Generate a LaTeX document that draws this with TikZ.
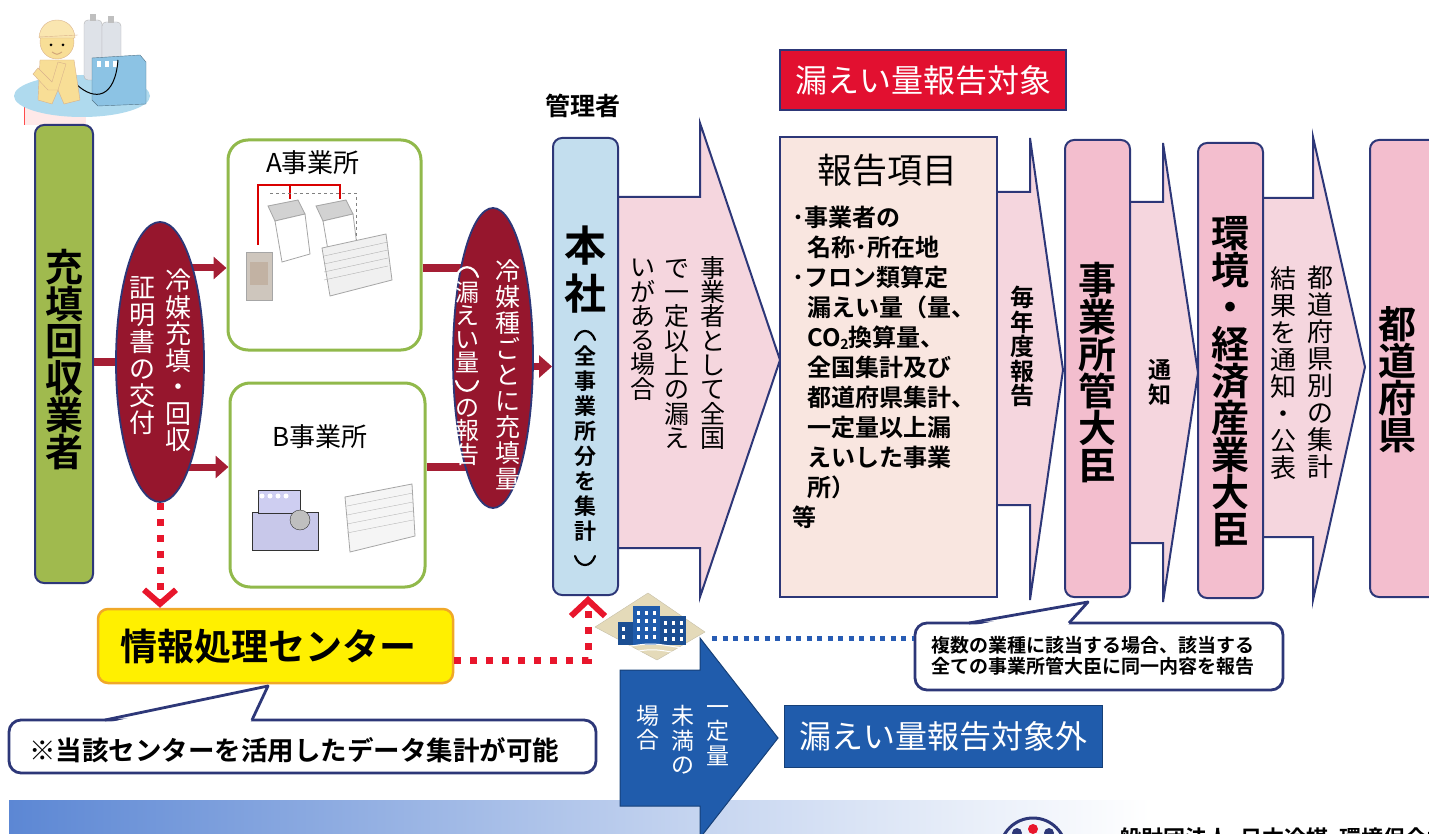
\documentclass[tikz,border=0pt]{standalone}
\usepackage{fontspec}
\setmainfont{Noto Sans CJK JP}[BoldFont={Noto Sans CJK JP Bold}]
\usetikzlibrary{shapes.geometric,arrows.meta}

\definecolor{navy}{RGB}{45,55,120}
\definecolor{grassgreen}{RGB}{160,186,78}
\definecolor{leafline}{RGB}{145,185,75}
\definecolor{wine}{RGB}{150,22,45}
\definecolor{wineline}{RGB}{165,30,52}
\definecolor{paleblue}{RGB}{195,222,238}
\definecolor{arrowpink}{RGB}{245,214,222}
\definecolor{boxpink}{RGB}{243,190,206}
\definecolor{peach}{RGB}{249,230,224}
\definecolor{alertred}{RGB}{226,16,48}
\definecolor{royal}{RGB}{32,92,172}
\definecolor{signyellow}{RGB}{255,240,0}
\definecolor{signorange}{RGB}{240,168,40}
\definecolor{dotred}{RGB}{232,22,44}
\definecolor{dotblue}{RGB}{40,92,180}
\definecolor{bannerblue}{RGB}{92,135,212}
\definecolor{workerbody}{RGB}{248,222,150}
\definecolor{discblue}{RGB}{175,218,238}
\definecolor{machblue}{RGB}{140,195,228}
\definecolor{cylgray}{RGB}{222,226,232}
\definecolor{sand}{RGB}{228,218,185}

\newcommand\fsz[2]{\fontsize{#1}{#2}\selectfont}

\begin{document}
\begin{tikzpicture}[x=1pt,y=-1pt,
  vcol/.style={inner sep=0pt, align=center, anchor=north},
  vbracket/.style={line width=2.2pt, line cap=round},
  tallbox/.style={draw=navy, line width=2pt, rounded corners=9pt, minimum width=65pt, minimum height=457pt},
  bigarrow/.style={fill=arrowpink, draw=navy, line width=2pt, line join=miter},
  redlink/.style={draw=wineline, line width=8pt},
  redarrow/.style={draw=wineline, line width=7pt, -{Triangle[length=13pt,width=22pt]}},
  officebox/.style={draw=leafline, line width=3pt, rounded corners=20pt, fill=white},
  wineoval/.style={ellipse, fill=wine, draw=navy, line width=1.8pt},
  callout/.style={draw=navy, line width=2.8pt, rounded corners=12pt, fill=white},
  reddots/.style={draw=dotred, line width=7pt, dash pattern=on 7pt off 9pt},
  bluedots/.style={draw=dotblue, line width=5pt, dash pattern=on 5pt off 5.5pt},
  equip/.style={draw=gray!70, line width=0.8pt}]
\useasboundingbox (0,0) rectangle (1429,834);
\clip (0,0) rectangle (1429,834);

% ---------- bottom banner ----------
\shade[left color=bannerblue, right color=bannerblue!35] (9,800) rectangle (700,840);
\shade[left color=bannerblue!35, right color=white] (700,800) rectangle (1150,840);

% ---------- worker with recovery equipment ----------
\fill[pink!35] (24,106) rectangle (86,125);
\draw[red!70, line width=1pt] (24,103) -- (24,125);
\fill[discblue] (82,96) ellipse [x radius=68, y radius=21];
\filldraw[fill=cylgray, draw=gray!60, rounded corners=4pt] (84,20) rectangle (102,80);
\filldraw[fill=cylgray, draw=gray!60, rounded corners=4pt] (102,22) rectangle (121,82);
\fill[gray!50] (90,14) rectangle (96,21);
\fill[gray!50] (108,16) rectangle (114,23);
\filldraw[fill=machblue, draw=machblue!60!black] (92,58) -- (140,55) -- (146,62) -- (146,104) -- (98,106) -- (92,100) -- cycle;
\foreach \wx in {97,105,113} \fill[white] (\wx,61) rectangle (\wx+4,67);
\draw[black, line width=1pt] (118,60) .. controls (115,98) and (95,102) .. (76,84);
% worker: legs and body
\filldraw[fill=workerbody, draw=brown!60] (40,60) -- (74,60) -- (80,100) -- (64,104) -- (58,90) -- (52,104) -- (38,100) -- cycle;
\filldraw[fill=workerbody, draw=brown!60] (38,68) -- (52,82) -- (58,62) -- (66,64) -- (58,90) -- (48,90) -- (33,74) -- cycle;
% head and cap
\filldraw[fill=workerbody, draw=brown!60] (57,42) circle (17);
\filldraw[fill=workerbody!75!white, draw=brown!60] (39,38) .. controls (40,14) and (74,14) .. (75,38) -- cycle;
\draw[brown!60] (39,37) -- (78,35);
\fill[black] (51,45) circle (1.5);
\fill[black] (63,45) circle (1.5);
\draw[brown!70, line width=1pt] (52,52) .. controls (57,55) .. (62,52);

% ---------- flow arrows (pink) ----------
\draw[bigarrow] (600,197) -- (700,197) -- (700,123) -- (780,360) -- (700,597) -- (700,548) -- (600,548) -- cycle;
\draw[bigarrow] (990,192) -- (1030,192) -- (1030,138) -- (1063,370) -- (1030,600) -- (1030,505) -- (990,505) -- cycle;
\draw[bigarrow] (1120,202) -- (1163,202) -- (1163,143) -- (1198,373) -- (1163,602) -- (1163,543) -- (1120,543) -- cycle;
\draw[bigarrow] (1255,198) -- (1313,198) -- (1313,137) -- (1365,367) -- (1313,600) -- (1313,537) -- (1255,537) -- cycle;

% ---------- below-threshold arrow (blue) ----------
\draw[fill=royal, draw=royal!70!black, line width=1pt] (620,670) -- (700,670) -- (700,638) -- (778,738) -- (700,838) -- (700,806) -- (620,806) -- cycle;

% ---------- main boxes ----------
\node[tallbox, fill=grassgreen, minimum width=58pt, minimum height=458pt] (collector) at (64,354) {};
\node[officebox, minimum width=193pt, minimum height=210pt] (officeA) at (324.5,245) {};
\node[officebox, minimum width=195pt, minimum height=204pt] (officeB) at (327.5,485) {};
\node[tallbox, fill=paleblue] (hq) at (585.5,366.5) {};
\node[draw=navy, line width=2pt, fill=peach, minimum width=217pt, minimum height=460pt] (items) at (888.5,367) {};
\node[tallbox, fill=boxpink] (minister) at (1097.5,368.5) {};
\node[tallbox, fill=boxpink, minimum height=455pt] (meti) at (1230.5,370.5) {};
\node[tallbox, fill=boxpink, minimum width=75pt] (pref) at (1407.5,368.5) {};

% ---------- red links ----------
\coordinate (certc) at (160,362);
\coordinate (repc) at (493,358);
\coordinate (ya) at (160,268);
\coordinate (yb) at (160,467);
\draw[redlink] (collector.east |- certc) -- (certc);
\draw[redarrow] (ya) -- (ya -| officeA.west);
\draw[redarrow] (yb) -- (yb -| officeB.west);
\draw[redlink] (ya -| officeA.east) -- (ya -| repc);
\draw[redlink] (yb -| officeB.east) -- (yb -| repc);
\draw[redarrow] (repc |- hq.west) -- (hq.west);

\node[wineoval, minimum width=88pt, minimum height=280pt] (cert) at (certc) {};
\node[wineoval, minimum width=80pt, minimum height=300pt] (rep) at (repc) {};

% ---------- equipment in office A ----------
\draw[red!85!black, line width=2.5pt] (258,245) -- (258,185) -- (340,185) -- (340,199);
\draw[red!85!black, line width=2.5pt] (290,185) -- (290,199);
\draw[gray, dashed] (270,193) -- (356,193) -- (356,262);
\foreach \dx in {0,48} {
  \filldraw[fill=gray!35, equip] (268+\dx,206) -- (298+\dx,200) -- (305+\dx,214) -- (275+\dx,221) -- cycle;
  \filldraw[fill=white, equip] (275+\dx,221) -- (305+\dx,214) -- (310+\dx,254) -- (282+\dx,262) -- cycle;
}
\filldraw[fill=gray!12, equip] (322,248) -- (386,234) -- (392,280) -- (330,296) -- cycle;
\foreach \sy in {8,16,24,32} \draw[gray!60] (324,248+\sy) -- (388,234+\sy);
\filldraw[fill=brown!30!gray!45, equip] (246,252) rectangle (272,300);
\fill[brown!40!gray!60] (250,262) rectangle (268,285);

% ---------- equipment in office B ----------
\filldraw[fill=gray!55!blue!30, draw=gray!40!black, line width=0.8pt] (252,512) rectangle (318,550);
\filldraw[fill=gray!45!blue!25, draw=gray!40!black, line width=0.8pt] (258,490) rectangle (300,513);
\foreach \kx in {262,270,278,286} \fill[white] (\kx,496) circle (2.5);
\filldraw[fill=gray!50, draw=gray!40!black] (300,520) circle (10);
\filldraw[fill=gray!8, equip] (345,497) -- (412,484) -- (415,536) -- (350,552) -- cycle;
\foreach \sy in {9,18,27,36} \draw[gray!55] (347,497+\sy) -- (413,484+\sy);

% ---------- building icon ----------
\filldraw[fill=sand, draw=sand!70!gray] (595,627) -- (648,593) -- (705,632) -- (657,660) -- cycle;
\fill[royal!85!black] (618,622) rectangle (634,645);
\fill[royal] (633,606) rectangle (660,645);
\fill[royal!85!black] (660,616) rectangle (686,645);
\foreach \bx in {637,645,653} \foreach \by in {611,619,627,635} \fill[white] (\bx,\by) rectangle (\bx+3,\by+4);
\foreach \bx in {664,672,680} \foreach \by in {621,629,637} \fill[white] (\bx,\by) rectangle (\bx+3,\by+4);
\foreach \by in {627,635} \fill[white] (622,\by) rectangle (625,\by+4);
\draw[white, line width=1pt] (612,650) .. controls (650,642) .. (692,650);
\draw[white, line width=1pt] (618,655) .. controls (652,648) .. (686,655);

% ---------- information centre and dotted links ----------
\node[draw=signorange, line width=2.5pt, fill=signyellow, rounded corners=10pt, minimum width=355pt, minimum height=74pt] (center) at (275.5,646) {};
\draw[reddots, -{Straight Barb[length=14pt,width=32pt,line width=6pt]}] (cert.south) -- (cert.south |- center.north);
\coordinate (turn) at (588,660);
\draw[reddots, -{Straight Barb[length=16pt,width=34pt,line width=6pt]}] (center.east |- turn) -- (turn) -- (turn |- hq.south);

% ---------- callouts ----------
\node[callout, minimum width=587pt, minimum height=53pt] (note) at (302.5,746.5) {};
\coordinate (notetip) at (268,686);
\fill[white] (107,723) -- (notetip) -- (250,723) -- cycle;
\draw[navy, line width=2.8pt, line join=round] (105,720) -- (notetip) -- (252,720);

\node[callout, minimum width=368pt, minimum height=67pt] (multi) at (1099,656.5) {};
\coordinate (multitip) at (1088,602);
\fill[white] (971,626) -- (multitip) -- (1067,626) -- cycle;
\draw[navy, line width=2.8pt, line join=round] (969,623) -- (multitip) -- (1069,623);
\coordinate (bldg) at (712,638);
\draw[bluedots] (bldg) -- (bldg -| multi.west);

% ---------- labels ----------
\node[draw=navy, line width=2.5pt, fill=alertred, minimum width=286pt, minimum height=60pt, text=white, font=\fsz{32}{34}] (target) at (923,80) {漏えい量報告対象};
\node[draw=royal!70!black, line width=1pt, fill=royal, minimum width=318pt, minimum height=62pt, text=white, font=\fsz{32}{34}] (outside) at (943,736) {漏えい量報告対象外};

\node[vcol, anchor=center, font=\fsz{38}{37}\bfseries] (collectorlabel) at (64,360) {充\\填\\回\\収\\業\\者};
\node[vcol, text=white, font=\fsz{26}{26.5}] (certR) at (178,269) {冷\\媒\\充\\填\\・\\回\\収};
\node[vcol, text=white, font=\fsz{26}{27}] (certL) at (142,276) {証\\明\\書\\の\\交\\付};
\node[font=\fsz{26}{28}] (labelA) at (313,163) {A事業所};
\node[font=\fsz{26}{28}] (labelB) at (320,437) {B事業所};
\node[vcol, text=white, font=\fsz{25}{26}] (repR) at (508,259) {冷\\媒\\種\\ご\\と\\に\\充\\填\\量};
% left column of the report oval; its brackets are drawn as arcs
\draw[vbracket, white] (456,277) .. controls (460,264) and (474,264) .. (478,277);
\node[vcol, text=white, font=\fsz{24}{23.5}] (repL) at (467,281) {漏\\え\\い\\量};
\draw[vbracket, white] (456,381) .. controls (460,394) and (474,394) .. (478,381);
\node[vcol, text=white, font=\fsz{24}{23.5}] (repL2) at (467,399) {の\\報\\告};
\node[font=\fsz{25}{27}\bfseries] (managerlabel) at (583,106) {管理者};
\node[vcol, font=\fsz{42}{48}\bfseries] (hqname) at (585,226) {本\\社};
\draw[vbracket, black] (575,340) .. controls (579,328) and (591,328) .. (595,340);
\node[vcol, font=\fsz{22}{25}\bfseries] (hqnote) at (585,346) {全\\事\\業\\所\\分\\を\\集\\計};
\draw[vbracket, black] (575,556) .. controls (579,568) and (591,568) .. (595,556);
\node[vcol, font=\fsz{25}{24.3}] (arrR) at (713,256) {事\\業\\者\\と\\し\\て\\全\\国};
\node[vcol, font=\fsz{25}{24.3}] (arrM) at (677,259) {で\\一\\定\\以\\上\\の\\漏\\え};
\node[vcol, font=\fsz{25}{24.3}] (arrL) at (643,259) {い\\が\\あ\\る\\場\\合};
\node[font=\fsz{35}{38}] (itemstitle) at (887,170) {報告項目};
\node[inner sep=0pt, anchor=north west, align=left, font=\fsz{24}{30}\bfseries] (itemlist) at (792,206) {%
･事業者の\\
\hspace*{15pt}名称･所在地\\
･フロン類算定\\
\hspace*{15pt}漏えい量（量、\\
\hspace*{15pt}CO{\fontsize{14}{14}\selectfont\raisebox{-3pt}{2}}換算量、\\
\hspace*{15pt}全国集計及び\\
\hspace*{15pt}都道府県集計、\\
\hspace*{15pt}一定量以上漏\\
\hspace*{15pt}えいした事業\\
\hspace*{15pt}所）\\
等};
\node[vcol, font=\fsz{24}{24.5}\bfseries] (yearly) at (1022,286) {毎\\年\\度\\報\\告};
\node[vcol, font=\fsz{38}{37}\bfseries] (ministerlabel) at (1097,262) {事\\業\\所\\管\\大\\臣};
\node[vcol, font=\fsz{23}{25}\bfseries] (notify) at (1160,359) {通\\知};
\node[vcol, font=\fsz{38}{37}\bfseries] (metilabel) at (1230,216) {環\\境\\・\\経\\済\\産\\業\\大\\臣};
\node[vcol, font=\fsz{26}{27}] (publR) at (1320,266) {都\\道\\府\\県\\別\\の\\集\\計};
\node[vcol, font=\fsz{26}{27}] (publL) at (1283,266) {結\\果\\を\\通\\知\\・\\公\\表};
\node[vcol, font=\fsz{38}{37}\bfseries] (preflabel) at (1397,306) {都\\道\\府\\県};
\node[font=\fsz{37}{40}\bfseries] (centerlabel) at (268,647) {情報処理センター};
\node[anchor=west, inner sep=0pt, font=\fsz{26.5}{30}\bfseries] (notelabel) at (29,750) {※当該センターを活用したデータ集計が可能};
\node[anchor=north west, inner sep=0pt, align=left, font=\fsz{19}{21.5}\bfseries] (multilabel) at (931,636) {複数の業種に該当する場合、該当する\\全ての事業所管大臣に同一内容を報告};
\node[vcol, text=white, font=\fsz{23}{24.5}] (smallR) at (718,705) {一\\定\\量};
\node[vcol, text=white, font=\fsz{23}{24.5}] (smallM) at (683,705) {未\\満\\の};
\node[vcol, text=white, font=\fsz{23}{24.5}] (smallL) at (648,705) {場\\合};

% ---------- organisation mark ----------
\draw[navy, line width=3pt] (1033,851) circle (33);
\fill[dotred] (1033,829) circle (5);
\fill[navy] (1017,833) circle (5);
\fill[navy] (1049,833) circle (5);
\node[anchor=base west, inner sep=0pt, font=\fsz{22}{24}\bfseries] (org) at (1097,846) {一般財団法人\hspace{0.5em}日本冷媒･環境保全機構};
\end{tikzpicture}
\end{document}
